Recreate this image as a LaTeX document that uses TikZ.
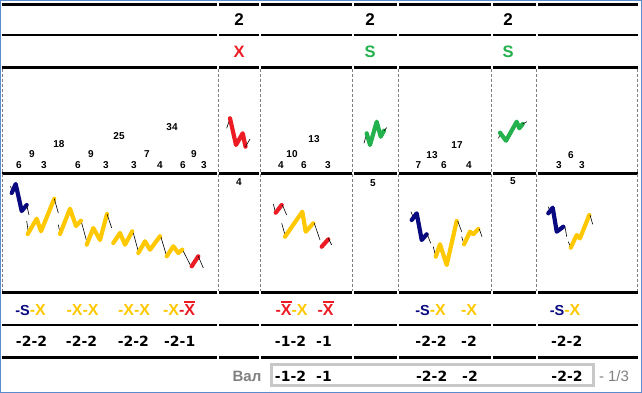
\documentclass[tikz,border=0pt]{standalone}
\usepackage{fontspec}
\setmainfont{Liberation Sans}
\newfontfamily\dvs{DejaVu Sans}
\definecolor{navyc}{RGB}{10,10,128}
\definecolor{goldc}{RGB}{255,200,0}
\definecolor{redc}{RGB}{237,28,36}
\definecolor{greenc}{RGB}{34,177,76}
\definecolor{framegray}{RGB}{200,200,200}
\definecolor{textgray}{RGB}{128,128,128}
\definecolor{borderblue}{RGB}{90,140,205}
\newcommand\ovX{\vbox{\hrule height 2.2pt\kern0.7pt\hbox{X}}}
\newcommand\fs[1]{\fontsize{#1}{#1}\selectfont}
\tikzset{
  hline/.style={line width=2.7pt,black},
  vdash/.style={line width=0.8pt,textgray,dash pattern=on 3pt off 2pt},
  wave/.style={line width=4.2pt,line cap=round,line join=round},
  wick/.style={line width=0.6pt,black},
  num/.style={inner sep=0pt,font=\fs{10}\bfseries},
  small/.style={inner sep=0pt,font=\fs{10}\bfseries},
  head/.style={inner sep=0pt,anchor=base,font=\fs{17}\bfseries},
  sig/.style={inner sep=0pt,anchor=base,font=\fs{16.5}\bfseries},
  lab/.style={inner sep=0pt,anchor=base,font=\fs{16}\bfseries},
  val/.style={inner sep=0pt,anchor=base,font=\dvs\fs{14}\bfseries},
}
\begin{document}
\begin{tikzpicture}[x=1pt,y=-1pt]
\useasboundingbox (0,0) rectangle (642,393);
\fill[white] (0,0) rectangle (642,393);
% horizontal rules
\foreach \yy in {4.3,35,67.3,173.3,292.3,325,357.3}{
  \foreach \a/\b in {1.7/217.4,219.2/259.4,261.2/351.8,353.6/397.4,399.2/490.8,492.6/535.8,537.6/638.3}
    \draw[hline] (\a,\yy) -- (\b,\yy);
}
% dashed verticals
\foreach \xx in {2.5,218.3,260.3,352.7,398.3,491.7,536.7,637.5}
  \draw[vdash] (\xx,69) -- (\xx,290.8);
% outer border
\draw[borderblue,line width=1pt] (0.5,0.5) rectangle (641.5,392.5);

% row 1
\node[head] (h1) at (239,25.7) {2};
\node[head] (h2) at (370,25.7) {2};
\node[head] (h3) at (508,25.7) {2};
% row 2
\node[sig,text=redc] (s1) at (239,57.3) {X};
\node[sig,text=greenc] (s2) at (370,57.3) {S};
\node[sig,text=greenc] (s3) at (508,57.3) {S};

% row 3 numbers
\node[num] (a1) at (19,165) {6};
\node[num] (a2) at (32,154) {9};
\node[num] (a3) at (44,165) {3};
\node[num] (a4) at (59,144) {18};
\node[num] (a5) at (78,165) {6};
\node[num] (a6) at (91,154) {9};
\node[num] (a7) at (106,165) {3};
\node[num] (a8) at (119,136) {25};
\node[num] (a9) at (134,165) {3};
\node[num] (a10) at (147,154) {7};
\node[num] (a11) at (160,165) {4};
\node[num] (a12) at (172,127) {34};
\node[num] (a13) at (183,165) {6};
\node[num] (a14) at (194,154) {9};
\node[num] (a15) at (204,165) {3};
\node[num] (b1) at (281,165) {4};
\node[num] (b2) at (292,154) {10};
\node[num] (b3) at (304,165) {6};
\node[num] (b4) at (314,139) {13};
\node[num] (b5) at (328,165) {3};
\node[num] (c1) at (418.3,165.5) {7};
\node[num] (c2) at (432,155) {13};
\node[num] (c3) at (444,165.5) {6};
\node[num] (c4) at (457,145) {17};
\node[num] (c5) at (469,165.5) {4};
\node[num] (d1) at (559,165.5) {3};
\node[num] (d2) at (571,155) {6};
\node[num] (d3) at (582,165.5) {3};

% row 3 small charts
\draw[wick] (226.7,128.3) -- (230,118.3);
\draw[wave,redc] (230,118.3) -- (236,145) -- (242.7,133.3) -- (245.5,146.7);
\draw[wick] (245.5,146.7) -- (250,139);
\draw[wick] (364,143.3) -- (366.7,133.3);
\draw[wave,greenc] (366.7,133.3) -- (370,145) -- (376.7,121.7) -- (380.7,136.7) -- (384,130.7);
\draw[wick] (384,130.7) -- (387,127.5);
\draw[wick] (498.3,138.3) -- (501.7,131.7);
\draw[wave,greenc] (500,132.7) -- (506,140.7) -- (516.7,121.7) -- (519.3,128.3) -- (522.7,124);
\draw[wick] (522.7,124) -- (526.7,121.7);

% row 4 numbers
\node[small] (e1) at (239,182.5) {4};
\node[small] (e2) at (373,183) {5};
\node[small] (e3) at (513,181.5) {5};

% row 4 charts, column 1
\draw[wick] (10.5,186) -- (12,191);
\draw[wave,navyc] (11.7,193) -- (15.7,184) -- (21.7,211) -- (26.7,205);
\draw[wick] (26.7,205) -- (29,215);
\draw[wick] (26.7,221) -- (28.3,232);
\draw[wave,goldc] (27.7,234) -- (36.7,218.7) -- (41,231.3) -- (54.3,198.7);
\draw[wick] (54.3,198.7) -- (58.3,213);
\draw[wick] (58.3,224.7) -- (60,233);
\draw[wave,goldc] (60,234) -- (70,208.7) -- (76,226) -- (81,220.7);
\draw[wick] (81.7,223) -- (86.7,241.3);
\draw[wave,goldc] (86.7,244.7) -- (93.3,228) -- (100,240) -- (107,214);
\draw[wick] (107,214) -- (111.7,228);
\draw[wave,goldc] (113.3,243) -- (120,233) -- (125,244.7) -- (132.3,231.3);
\draw[wick] (133.3,233) -- (138.3,251.3);
\draw[wave,goldc] (138.3,253) -- (145,241.3) -- (150,249.7) -- (160,236.3);
\draw[wick] (161,237.3) -- (166.7,256.3);
\draw[wave,goldc] (166.7,256.3) -- (173.3,246.3) -- (178.3,253) -- (182.3,249.7);
\draw[wick] (183.3,251.3) -- (191,266.3);
\draw[wave,redc] (191.7,266.3) -- (198.3,256.3);
\draw[wick] (198.3,256.3) -- (203.3,268);
% column 3
\draw[wick] (273.3,204) -- (275.7,213.3);
\draw[wave,redc] (275.7,212.7) -- (281.7,205);
\draw[wick] (282.3,205) -- (286.7,215);
\draw[wick] (281.7,223.3) -- (285,235);
\draw[wave,goldc] (285,236.7) -- (302.3,211.7) -- (305.7,231.7) -- (313.3,223.3);
\draw[wick] (314.3,223.3) -- (320,240);
\draw[wave,redc] (321.7,246.7) -- (328.3,239.3);
\draw[wick] (328.3,238.3) -- (331.7,245);
% column 5
\draw[wick] (411,211.7) -- (412.7,216);
\draw[wave,navyc] (411.7,220) -- (416.7,213.3) -- (421.7,240) -- (426.7,234.3);
\draw[wick] (427.3,234.3) -- (430.7,243.3);
\draw[wick] (433.3,246.7) -- (435.7,256.7);
\draw[wave,goldc] (435.7,256.7) -- (440,244.3) -- (446.7,265) -- (456.7,221);
\draw[wick] (457.7,221) -- (461.7,231.7);
\draw[wick] (461.7,236.7) -- (464,244.3);
\draw[wave,goldc] (464,244.3) -- (470,231.7) -- (473.3,234.3) -- (478.3,229);
\draw[wick] (479.3,229) -- (482,236.7);
% column 7
\draw[wick] (548.3,206.7) -- (550,211.7);
\draw[wave,navyc] (548.3,213.3) -- (552.7,207.7) -- (556.7,231.7) -- (563.3,226.7);
\draw[wick] (565,226.7) -- (566.7,236.7);
\draw[wick] (568.3,241.7) -- (570.7,247.7);
\draw[wave,goldc] (570.7,247.7) -- (576.7,235) -- (580,238.3) -- (589.3,215);
\draw[wick] (590,215) -- (592.7,224.3);

% row 5 labels
\node[lab] (l1) at (30.5,315) {{\color{navyc}\fs{14.5}-S}{\color{goldc}-X}};
\node[lab,text=goldc] (l2) at (82.5,315) {-X-X};
\node[lab,text=goldc] (l3) at (134,315) {-X-X};
\node[lab] (l4) at (179,315) {{\color{goldc}-X}{\color{redc}-\ovX}};
\node[lab] (l5) at (291.5,315) {{\color{redc}-\ovX}{\color{goldc}-X}};
\node[lab,text=redc] (l6) at (325.5,315) {-\ovX};
\node[lab] (l7) at (430.5,315) {{\color{navyc}\fs{14.5}-S}{\color{goldc}-X}};
\node[lab,text=goldc] (l8) at (469,315) {-X};
\node[lab] (l9) at (565,315) {{\color{navyc}\fs{14.5}-S}{\color{goldc}-X}};

% row 6 values
\node[val] (v1) at (31.5,346.7) {-2-2};
\node[val] (v2) at (81.5,346.7) {-2-2};
\node[val] (v3) at (133.3,346.7) {-2-2};
\node[val] (v4) at (179.7,346.7) {-2-1};
\node[val] (v5) at (290.5,346.7) {-1-2};
\node[val] (v6) at (324,346.7) {-1};
\node[val] (v7) at (431,346.7) {-2-2};
\node[val] (v8) at (469,346.7) {-2};
\node[val] (v9) at (566.7,346.7) {-2-2};

% row 7
\draw[framegray,line width=3pt] (271.5,364.5) rectangle (593.5,385.5);
\node[inner sep=0pt,anchor=base,font=\fs{15}\bfseries,text=textgray] (vl) at (247,381.7) {Вал};
\node[val] (w1) at (290.5,381.7) {-1-2};
\node[val] (w2) at (324,381.7) {-1};
\node[val] (w3) at (431.7,381.7) {-2-2};
\node[val] (w4) at (470,381.7) {-2};
\node[val] (w5) at (567,381.7) {-2-2};
\node[inner sep=0pt,anchor=base,font=\fs{15},text=textgray] (pg) at (614,381.7) {- 1/3};
\end{tikzpicture}
\end{document}
